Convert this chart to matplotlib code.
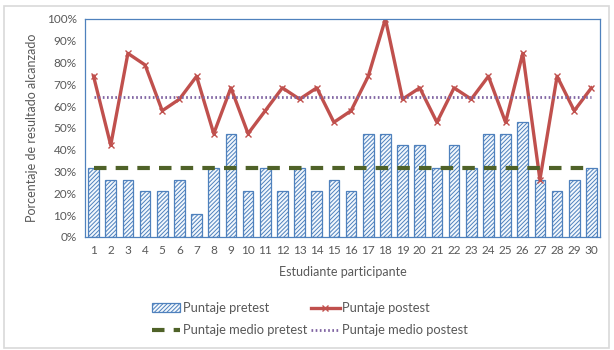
import matplotlib
matplotlib.use("Agg")
import matplotlib.pyplot as plt
from matplotlib.patches import Rectangle
from matplotlib.ticker import PercentFormatter

plt.rcParams['font.family'] = ['Lato', 'DejaVu Sans']
plt.rcParams['hatch.color'] = '#8dbbe6'
plt.rcParams['hatch.linewidth'] = 0.7

estudiantes = list(range(1, 31))
pretest = [0.316, 0.263, 0.263, 0.211, 0.211, 0.263, 0.105, 0.316, 0.474, 0.211,
           0.316, 0.211, 0.316, 0.211, 0.263, 0.211, 0.474, 0.474, 0.421, 0.421,
           0.316, 0.421, 0.316, 0.474, 0.474, 0.526, 0.263, 0.211, 0.263, 0.316]
postest = [0.737, 0.421, 0.842, 0.789, 0.579, 0.632, 0.737, 0.474, 0.684, 0.474,
           0.579, 0.684, 0.632, 0.684, 0.526, 0.579, 0.737, 1.000, 0.632, 0.684,
           0.526, 0.684, 0.632, 0.737, 0.526, 0.842, 0.263, 0.737, 0.579, 0.684]
medio_pretest = 0.318
medio_postest = 0.644

gris = '#595959'
fig = plt.figure(figsize=(6.14, 3.5), dpi=100)
fig.patches.append(Rectangle((0.007, 0.006), 0.985, 0.978, transform=fig.transFigure,
                             fill=False, edgecolor='#d9d9d9', linewidth=1.2))
ax = fig.add_axes([0.1384, 0.3229, 0.8388, 0.623])

barras = ax.bar(estudiantes, pretest, width=0.62, color='#f3f8fd', edgecolor='#4f81bd',
                hatch='////////', linewidth=0.9, label='Puntaje pretest')
l_post, = ax.plot(estudiantes, postest, color='#c0504d', linewidth=2.4, marker='x',
                  markersize=4, markeredgewidth=1, label='Puntaje postest')
l_mpre, = ax.plot([estudiantes[0], estudiantes[-1]], [medio_pretest] * 2, color='#4f6228',
                  linewidth=3, linestyle=(0, (3, 2.2)), label='Puntaje medio pretest')
l_mpost, = ax.plot([estudiantes[0], estudiantes[-1]], [medio_postest] * 2, color='#8064a2',
                   linewidth=2, linestyle=(0, (0.6, 0.9)), label='Puntaje medio postest')

ax.set_xlim(0.5, 30.5)
ax.set_ylim(0, 1)
ax.set_xticks(estudiantes)
ax.set_yticks([i / 10 for i in range(11)])
ax.yaxis.set_major_formatter(PercentFormatter(1.0, decimals=0))
ax.tick_params(length=0, labelsize=8.5, colors=gris, pad=6)
for s in ax.spines.values():
    s.set_color('#4f81bd')
    s.set_linewidth(0.9)

ax.set_xlabel('Estudiante participante', fontsize=9, color=gris, labelpad=7)
ax.set_ylabel('Porcentaje de resultado alcanzado', fontsize=9, color=gris, labelpad=6)

handles = [barras, l_mpre, l_post, l_mpost]
labels = [x.get_label() for x in handles]
leg = fig.legend(handles, labels, ncol=2,
                 loc='center', bbox_to_anchor=(0.505, 0.088), frameon=False,
                 fontsize=9.3, handlelength=2.2, handletextpad=0.2,
                 columnspacing=0.3, labelspacing=0.75)
for t in leg.get_texts():
    t.set_color(gris)

fig.savefig('out.png', dpi=100)
